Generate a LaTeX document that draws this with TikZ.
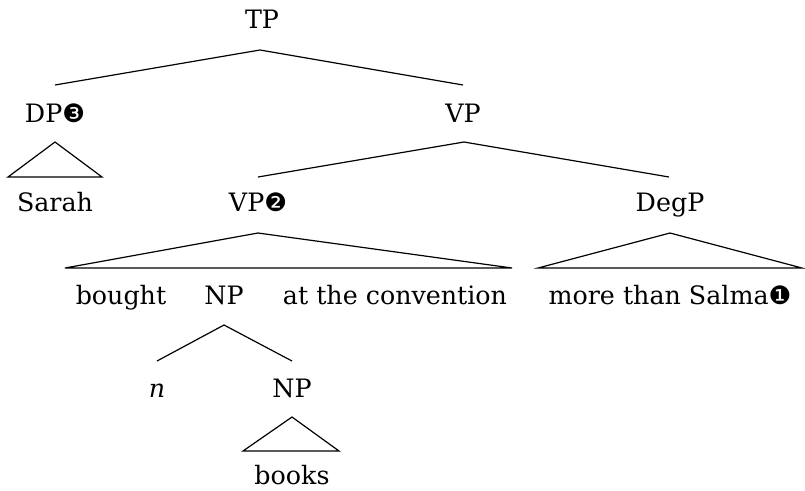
\documentclass[tikz,border=0pt]{standalone}
\usepackage{fontspec}
\setmainfont{DejaVu Serif}
\newfontfamily\dingfont{DejaVu Sans}
\newcommand{\cnum}[1]{{\dingfont #1}}
\begin{document}
\begin{tikzpicture}[x=0.75pt,y=-0.75pt,
  lbl/.style={inner sep=0pt,anchor=base,font=\fontsize{19}{22}\selectfont},
  branch/.style={line width=0.9pt,line join=miter}]
\useasboundingbox (0,0) rectangle (805,490);

% labels
\node[lbl] (tp)    at (262,28)  {TP};
\node[lbl] (dp)    at (55,122)  {DP\cnum{❸}};
\node[lbl] (sarah) at (55,211)  {Sarah};
\node[lbl] (vp)    at (463,122) {VP};
\node[lbl] (vpb)   at (258,211) {VP\cnum{❷}};
\node[lbl] (degp)  at (670,211) {DegP};
\node[lbl] (bought) at (121,304) {bought};
\node[lbl] (np)    at (224,304) {NP};
\node[lbl] (conv)  at (395,304) {at the convention};
\node[lbl] (salma) at (670,304) {more than Salma\cnum{❶}};
\node[lbl] (n)     at (157,397) {\itshape n};
\node[lbl] (npb)   at (292,397) {NP};
\node[lbl] (books) at (292,484) {books};

% branch points
\coordinate (tpT) at (260,50);
\coordinate (tpL) at (55,85);
\coordinate (tpR) at (463,85);
\coordinate (dpT) at (55,142);
\coordinate (dpL) at (8,177);
\coordinate (dpR) at (102,177);
\coordinate (vpT) at (464,142);
\coordinate (vpL) at (258,177);
\coordinate (vpR) at (669,177);
\coordinate (vbT) at (258,233);
\coordinate (vbL) at (65,268);
\coordinate (vbR) at (512,268);
\coordinate (dgT) at (670,233);
\coordinate (dgL) at (538,268);
\coordinate (dgR) at (802,268);
\coordinate (npT) at (224,325);
\coordinate (npL) at (157,361);
\coordinate (npR) at (292,361);
\coordinate (bkT) at (292,417);
\coordinate (bkL) at (243,451);
\coordinate (bkR) at (339,451);

% branches
\draw[branch] (tpL) -- (tpT) -- (tpR);
\draw[branch] (vpL) -- (vpT) -- (vpR);
\draw[branch] (npL) -- (npT) -- (npR);
% roofs
\draw[branch] (dpT) -- (dpL) -- (dpR) -- cycle;
\draw[branch] (vbT) -- (vbL) -- (vbR) -- cycle;
\draw[branch] (dgT) -- (dgL) -- (dgR) -- cycle;
\draw[branch] (bkT) -- (bkL) -- (bkR) -- cycle;
\end{tikzpicture}
\end{document}
